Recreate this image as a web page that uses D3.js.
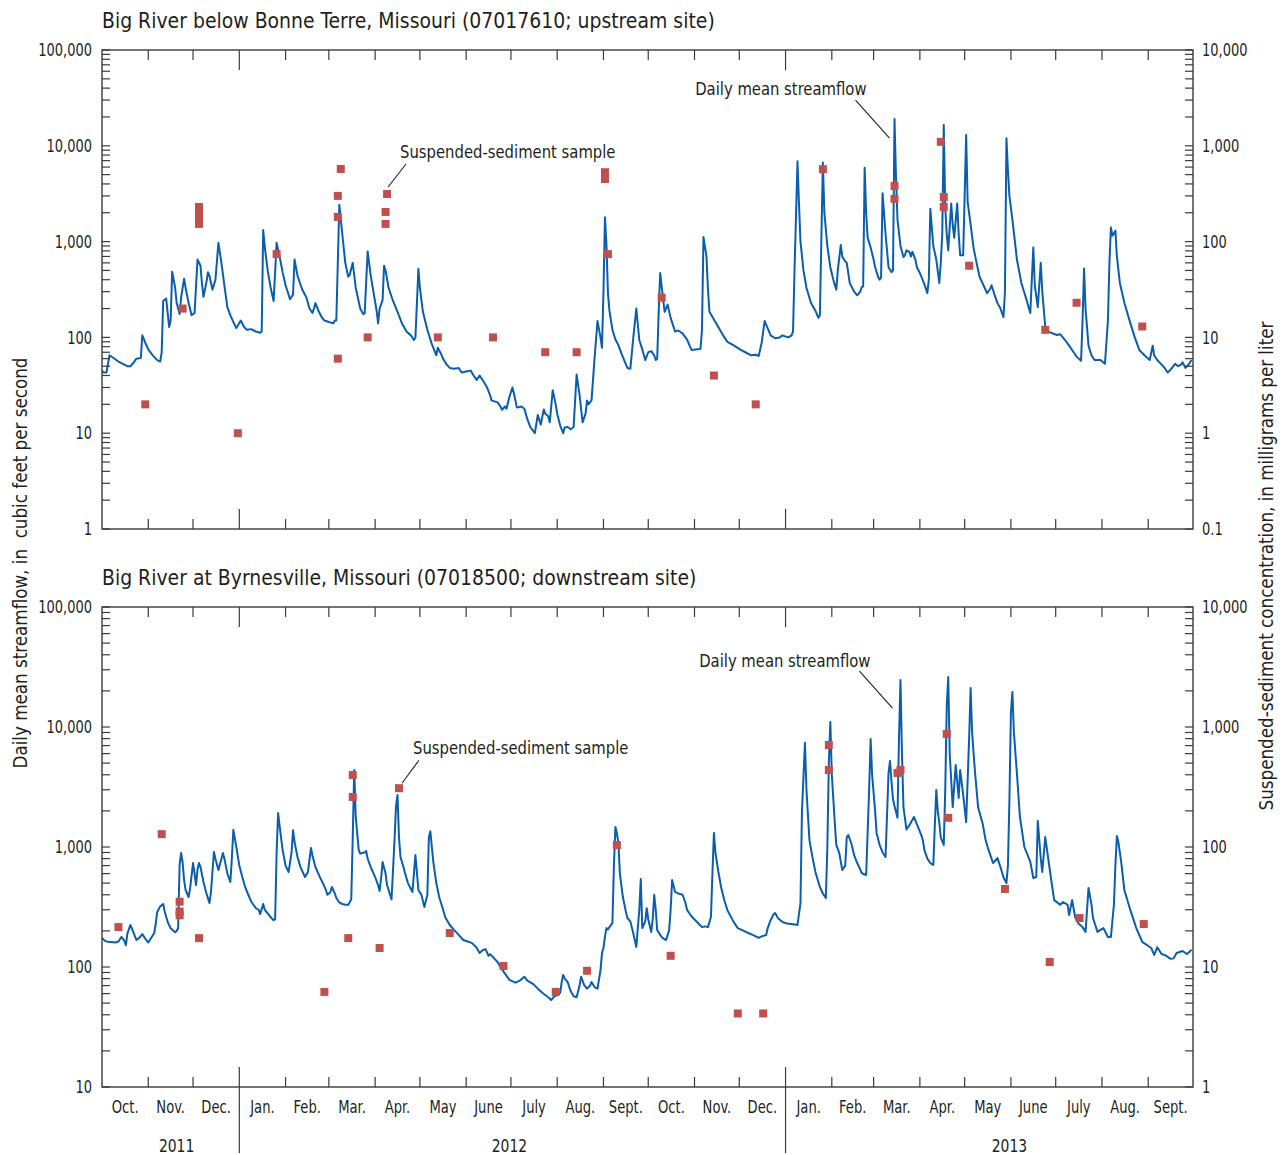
<!DOCTYPE html>
<html>
<head>
<meta charset="utf-8">
<script src="https://cdn.jsdelivr.net/npm/d3@7"></script>
<style>
  html, body { margin: 0; padding: 0; background: #fff; }
  svg { display: block; }
</style>
</head>
<body>
<svg id="chart" width="1284" height="1155"></svg>
<script>
// Water years 2012-2013: day 0 = 1 October 2011.
const startDate = new Date(Date.UTC(2011, 9, 1));
const endDate = new Date(Date.UTC(2013, 9, 1));

// Daily mean streamflow, Big River below Bonne Terre [day, cubic feet per second]
const upstreamFlow = [[0,45],[1,43],[3,43],[5,65],[7,62],[11,56],[15,52],[17,50],[19,50],[21,54],[23,60],[26,61],[27,105],[29,88],[31,75],[34,65],[37,58],[39,56],[40,70],[41,240],[43,255],[44,180],[45,128],[46,150],[47,485],[49,330],[50,230],[52,175],[53,260],[55,410],[56,330],[58,230],[60,170],[62,180],[64,650],[66,560],[67,360],[68,265],[70,380],[71,480],[72,440],[74,315],[76,400],[78,970],[80,600],[82,350],[84,207],[86,170],[88,145],[90,125],[93,150],[95,130],[97,120],[100,122],[103,115],[106,112],[107,115],[108,1320],[109,900],[111,500],[113,330],[115,240],[117,970],[119,700],[121,480],[123,350],[126,250],[128,280],[129,650],[131,440],[134,320],[137,260],[139,200],[141,180],[142,200],[143,228],[145,190],[147,165],[149,150],[152,145],[155,140],[156,150],[157,150],[159,2420],[161,1200],[163,600],[165,430],[166,450],[168,600],[170,330],[173,200],[175,175],[176,178],[178,790],[180,450],[182,290],[184,190],[185,140],[186,200],[188,245],[189,560],[190,500],[192,330],[195,240],[198,185],[201,140],[204,115],[207,105],[209,94],[210,100],[212,520],[213,330],[215,185],[218,120],[221,85],[224,65],[225,78],[227,68],[229,58],[231,52],[233,48],[236,47],[239,48],[241,43],[244,44],[247,45],[249,40],[251,36],[253,40],[256,34],[258,30],[260,25],[261,22],[265,21],[267,19],[268,17.5],[270,19],[271,18],[273,24],[275,30],[276,26],[278,18.5],[281,19],[283,18],[285,14],[287,11.6],[289,10.5],[290,10],[292,15.5],[294,12.3],[296,17.7],[297,16],[299,15],[300,13],[302,28],[304,20],[305,16],[307,12],[309,10],[310,11.5],[312,11.6],[314,11],[316,11.6],[318,41],[320,25],[322,13],[324,16],[325,22],[326,20],[328,22],[330,60],[332,148],[334,100],[335,78],[336,300],[337,1800],[338,920],[339,290],[340,190],[342,120],[344,95],[346,83],[348,68],[352,48],[354,47],[356,100],[358,200],[360,94],[362,75],[364,58],[366,70],[368,72],[370,65],[371,58],[372,60],[373,185],[374,470],[376,250],[377,185],[379,220],[381,160],[384,115],[386,118],[389,110],[392,95],[394,80],[395,74],[399,75],[401,76],[402,120],[403,1120],[405,700],[406,320],[407,185],[411,145],[414,120],[417,100],[419,90],[423,83],[428,74],[431,70],[435,65],[438,66],[440,64],[442,88],[444,148],[446,125],[448,105],[451,98],[454,100],[456,105],[458,102],[460,100],[462,105],[463,115],[464,500],[466,6900],[467,2500],[468,1000],[470,500],[472,330],[475,230],[478,190],[480,160],[481,170],[483,6700],[484,2000],[486,900],[488,540],[490,400],[492,315],[493,500],[495,920],[496,700],[498,620],[499,600],[501,370],[504,300],[506,275],[508,300],[509,335],[510,340],[511,5900],[512,2000],[513,1100],[515,870],[517,650],[518,540],[520,430],[521,400],[522,420],[523,3200],[525,1200],[527,540],[529,480],[530,500],[531,19000],[532,4700],[533,1700],[535,900],[537,690],[538,720],[539,810],[541,780],[542,700],[543,780],[545,650],[546,540],[548,470],[549,430],[551,360],[553,290],[554,400],[555,2200],[557,900],[559,650],[561,370],[562,600],[563,1200],[564,16500],[565,2300],[566,1200],[567,810],[569,2500],[570,1500],[571,1100],[573,2500],[574,1200],[575,720],[577,720],[578,3000],[579,13000],[580,2600],[582,1500],[584,850],[586,600],[588,430],[591,340],[593,290],[595,320],[596,350],[598,280],[600,228],[602,200],[604,163],[605,300],[606,12000],[607,5500],[608,3000],[610,1700],[612,900],[613,650],[615,450],[616,370],[619,260],[622,180],[623,400],[624,870],[625,350],[627,207],[628,350],[629,600],[630,300],[632,130],[634,115],[637,110],[640,106],[642,108],[645,95],[648,82],[651,70],[653,63],[656,57],[657,150],[658,525],[659,200],[661,82],[663,65],[665,58],[669,58],[672,53],[674,150],[675,600],[676,1400],[677,1150],[679,1300],[680,700],[682,370],[685,230],[689,141],[692,100],[695,74],[699,64],[702,58],[704,82],[705,65],[707,58],[710,52],[712,48],[714,43],[716,46],[719,53],[721,50],[723,52],[724,55],[726,48],[728,52],[730,58]];

// Suspended-sediment samples, upstream site [day, milligrams per liter]
const upstreamSamples = [[29,2],[54,20],[65,230],[65,200],[65,175],[65,153],[91,1],[117,74],[158,300],[158,181],[158,6],[160,573],[178,10],[190,204],[190,153],[191,314],[225,10],[262,10],[297,7],[318,7],[337,530],[337,450],[339,74],[375,26],[410,4],[438,2],[483,570],[531,380],[531,279],[562,1100],[564,292],[564,230],[581,56],[632,12],[653,23],[697,13]];

// Daily mean streamflow, Big River at Byrnesville [day, cubic feet per second]
const downstreamFlow = [[0,175],[2,165],[4,162],[9,160],[11,163],[13,178],[15,165],[16,152],[17,190],[19,224],[21,195],[23,168],[25,175],[27,188],[29,172],[31,160],[33,175],[35,192],[36,230],[37,287],[39,320],[41,335],[42,290],[44,237],[46,210],[49,195],[50,200],[51,210],[52,708],[53,890],[54,750],[55,530],[56,440],[58,383],[59,450],[61,735],[62,600],[63,482],[64,650],[65,735],[66,680],[68,511],[70,410],[72,341],[73,420],[75,908],[76,800],[78,643],[80,800],[81,890],[82,800],[84,600],[86,511],[87,800],[88,1390],[90,1000],[92,700],[94,562],[96,460],[98,400],[100,350],[103,310],[105,300],[106,276],[108,335],[109,300],[111,280],[113,260],[115,245],[116,250],[117,900],[118,1920],[119,1500],[121,945],[123,700],[125,617],[127,900],[128,1380],[129,1100],[131,825],[133,680],[136,562],[138,620],[140,980],[141,850],[143,681],[146,560],[148,500],[150,440],[151,400],[153,420],[154,464],[156,410],[157,376],[159,345],[161,335],[163,330],[165,330],[167,365],[168,1200],[169,4380],[170,1800],[172,945],[173,880],[174,890],[176,900],[177,925],[178,800],[180,681],[182,600],[183,562],[185,480],[186,430],[187,550],[188,750],[190,600],[191,482],[193,400],[194,365],[196,1140],[197,2200],[198,2710],[199,1200],[200,825],[202,680],[203,607],[205,500],[208,422],[209,600],[210,857],[212,438],[214,400],[216,316],[218,400],[219,1200],[220,1350],[221,1000],[222,750],[224,500],[226,380],[228,316],[230,260],[233,224],[236,203],[239,185],[242,168],[245,163],[248,158],[251,145],[253,131],[255,138],[257,141],[259,124],[260,128],[262,121],[265,110],[267,100],[270,88],[273,78],[277,74],[280,77],[283,83],[285,77],[289,72],[292,66],[295,61],[299,56],[301,53],[303,57],[305,58],[307,61],[308,75],[309,86],[310,80],[312,75],[314,63],[316,57],[318,56],[320,70],[321,83],[323,71],[325,66],[327,70],[328,75],[330,68],[332,66],[334,94],[335,130],[336,144],[337,180],[338,211],[339,205],[340,215],[342,233],[343,700],[344,1470],[345,1300],[346,1080],[347,600],[349,383],[351,290],[352,256],[354,240],[356,190],[358,147],[360,300],[361,541],[362,211],[364,240],[365,309],[366,250],[368,196],[369,250],[370,400],[371,300],[372,203],[375,178],[377,170],[378,168],[380,203],[381,300],[382,531],[384,422],[386,410],[389,400],[391,340],[392,299],[394,275],[396,256],[399,235],[402,215],[404,218],[406,215],[408,261],[409,600],[410,1310],[411,900],[413,619],[415,450],[417,360],[419,299],[423,240],[426,211],[430,200],[433,192],[436,185],[440,175],[442,180],[445,185],[446,210],[448,246],[450,275],[451,282],[453,255],[456,237],[459,230],[462,228],[466,224],[468,341],[469,2000],[471,7400],[472,3000],[474,1140],[476,825],[478,620],[481,464],[483,410],[485,376],[486,1000],[487,5000],[488,11000],[489,4000],[491,1580],[492,1040],[494,890],[496,643],[498,700],[499,1210],[500,1260],[502,1080],[504,850],[506,735],[508,650],[509,607],[511,590],[512,584],[514,3000],[515,7940],[516,4000],[518,2000],[519,1310],[521,1040],[523,900],[525,825],[527,4140],[528,5210],[529,3500],[530,2500],[531,2200],[533,1750],[534,8000],[535,24600],[536,6000],[537,2150],[539,1400],[541,1520],[544,1780],[547,1440],[549,1250],[550,1140],[551,945],[553,800],[555,735],[557,708],[558,1500],[559,2990],[560,2000],[561,1600],[562,1200],[564,1040],[565,3000],[566,15000],[567,26100],[568,6000],[570,2150],[572,4820],[574,2560],[575,4380],[577,2730],[579,1610],[581,8000],[582,21100],[583,9000],[584,6000],[585,4140],[587,2150],[590,1580],[592,1150],[594,945],[597,735],[600,808],[602,680],[604,560],[606,500],[607,700],[608,2500],[609,13100],[610,19600],[611,9000],[613,4140],[615,1800],[618,1000],[622,750],[624,552],[626,562],[627,1650],[629,800],[630,619],[632,1210],[634,800],[636,531],[638,361],[642,330],[644,348],[647,330],[648,271],[650,361],[652,261],[654,233],[657,215],[659,196],[661,455],[663,330],[664,256],[667,196],[671,211],[674,178],[676,178],[678,330],[679,700],[680,1236],[681,1100],[683,735],[685,438],[689,299],[693,211],[697,162],[703,144],[705,126],[707,146],[710,128],[712,126],[716,117],[718,118],[720,131],[724,136],[727,128],[730,139]];

// Suspended-sediment samples, downstream site [day, milligrams per liter]
const downstreamSamples = [[11,21.5],[40,128],[52,35],[52,29],[52,27],[65,17.4],[149,6.2],[165,17.4],[168,398],[168,261],[186,14.4],[199,309],[233,19.2],[269,10.2],[304,6.2],[325,9.3],[345,104],[381,12.4],[426,4.1],[443,4.1],[487,708],[487,438],[533,414],[535,438],[566,875],[567,175],[605,44.7],[635,11],[655,25.6],[698,22.8]];

// Axis tick labels
const monthLabels = ["Jan.", "Feb.", "Mar.", "Apr.", "May", "June", "July", "Aug.", "Sept.", "Oct.", "Nov.", "Dec."];
const yearLabels = [["2011", "2011-11-20"], ["2012", "2012-06-30"], ["2013", "2013-05-31"]];
const upstreamFlowTicks = ["1", "10", "100", "1,000", "10,000", "100,000"];
const upstreamConcTicks = ["0.1", "1", "10", "100", "1,000", "10,000"];
const downstreamFlowTicks = ["10", "100", "1,000", "10,000", "100,000"];
const downstreamConcTicks = ["1", "10", "100", "1,000", "10,000"];

const FONT = '"DejaVu Sans Condensed", "DejaVu Sans", sans-serif';
const INK = "#231f20";
const AXIS = "#3a3a3a";
const LINE = "#0a5eab";
const SAMPLE = "#c0504d";

const svg = d3.select("#chart");
svg.append("rect").attr("width", 1284).attr("height", 1155).attr("fill", "#fff");

// Text in a narrowed face: horizontal compression keeps the condensed look.
function label(parent, opt) {
  const t = parent.append("text")
    .attr("transform", `translate(${opt.x},${opt.y})` + (opt.rotate ? ` rotate(${opt.rotate})` : "") + ` scale(${opt.sx || 1},1)`)
    .attr("text-anchor", opt.anchor || "start")
    .attr("font-family", FONT)
    .attr("font-size", opt.size)
    .attr("fill", INK)
    .style("white-space", "pre")
    .text(opt.text);
  if (opt.middle) t.attr("dy", "0.36em");
  return t;
}

const left = 102, right = 1193;
const x = d3.scaleUtc().domain([startDate, endDate]).range([left, right]);
const dayDate = d => d3.utcDay.offset(startDate, d);

const panels = [
  {
    title: "Big River below Bonne Terre, Missouri (07017610; upstream site)",
    top: 50, bottom: 529,
    flowDomain: [1, 1e5], concDomain: [0.1, 1e4],
    flow: upstreamFlow, samples: upstreamSamples,
    flowTicks: upstreamFlowTicks, concTicks: upstreamConcTicks,
    sampleNote: { day: 191, conc: 314, leader: [[1, -7], [19, -30]], text: [13, -42] },
    flowNote: { day: 531, flow: 19000, leader: [[-5, 19], [-39, -19]], text: [-28, -31] },
    monthLabels: false
  },
  {
    title: "Big River at Byrnesville, Missouri (07018500; downstream site)",
    top: 607, bottom: 1087,
    flowDomain: [10, 1e5], concDomain: [1, 1e4],
    flow: downstreamFlow, samples: downstreamSamples,
    flowTicks: downstreamFlowTicks, concTicks: downstreamConcTicks,
    sampleNote: { day: 199, conc: 309, leader: [[3, -5], [20, -28]], text: [14, -41] },
    flowNote: { day: 535, flow: 24600, leader: [[-8, 28], [-41, -9]], text: [-30, -20] },
    monthLabels: true
  }
];

const monthStarts = d3.utcMonth.range(startDate, endDate).slice(1);
const isYearStart = d => d.getUTCMonth() === 0;

panels.forEach((p, i) => {
  const g = svg.append("g");
  const yFlow = d3.scaleLog().domain(p.flowDomain).range([p.bottom, p.top]);
  const yConc = d3.scaleLog().domain(p.concDomain).range([p.bottom, p.top]);

  label(g, { x: left, y: p.top - 22, text: p.title, size: 22, sx: 0.953 });

  const clipId = "clip" + i;
  g.append("clipPath").attr("id", clipId)
    .append("rect").attr("x", left).attr("y", p.top)
    .attr("width", right - left).attr("height", p.bottom - p.top);

  // streamflow hydrograph
  const line = d3.line()
    .x(d => x(dayDate(d[0])))
    .y(d => yFlow(d[1]));
  g.append("path")
    .datum(p.flow)
    .attr("clip-path", `url(#${clipId})`)
    .attr("d", line)
    .attr("fill", "none")
    .attr("stroke", LINE)
    .attr("stroke-width", 2)
    .attr("stroke-linejoin", "round");

  // sediment samples
  g.selectAll("rect.sample")
    .data(p.samples)
    .join("rect")
    .attr("class", "sample")
    .attr("x", d => x(dayDate(d[0])) - 4)
    .attr("y", d => yConc(d[1]) - 4)
    .attr("width", 8).attr("height", 8)
    .attr("fill", SAMPLE);

  // frame
  g.append("rect")
    .attr("x", left).attr("y", p.top)
    .attr("width", right - left).attr("height", p.bottom - p.top)
    .attr("fill", "none").attr("stroke", AXIS).attr("stroke-width", 1.4);

  // logarithmic ticks on both sides, pointing inward
  const [fLo, fHi] = p.flowDomain;
  const minor = [];
  for (let dec = fLo; dec < fHi; dec *= 10) {
    for (let m = 1; m <= 9; m++) minor.push(dec * m);
  }
  minor.push(fHi);
  const tickG = g.append("g").attr("stroke", AXIS).attr("stroke-width", 1.2);
  minor.forEach(v => {
    const yy = yFlow(v);
    tickG.append("line").attr("x1", left).attr("x2", left + 8).attr("y1", yy).attr("y2", yy);
    tickG.append("line").attr("x1", right - 8).attr("x2", right).attr("y1", yy).attr("y2", yy);
  });

  p.flowTicks.forEach((t, k) => {
    label(g, { x: left - 10, y: yFlow(fLo * Math.pow(10, k)), text: t, size: 17, sx: 0.85, anchor: "end", middle: true });
  });
  p.concTicks.forEach((t, k) => {
    label(g, { x: right + 9, y: yConc(p.concDomain[0] * Math.pow(10, k)), text: t, size: 17, sx: 0.85, anchor: "start", middle: true });
  });

  // month ticks along top and bottom edges; year boundaries are longer
  monthStarts.forEach(m => {
    const xx = x(m);
    const len = isYearStart(m) ? 20 : 10;
    tickG.append("line").attr("x1", xx).attr("x2", xx).attr("y1", p.top).attr("y2", p.top + len);
    tickG.append("line").attr("x1", xx).attr("x2", xx).attr("y1", p.bottom).attr("y2", p.bottom - len);
    if (p.monthLabels && isYearStart(m)) {
      tickG.append("line").attr("x1", xx).attr("x2", xx).attr("y1", p.bottom).attr("y2", p.bottom + 66);
    }
  });

  if (p.monthLabels) {
    const bounds = d3.utcMonth.range(startDate, d3.utcDay.offset(endDate, 1));
    for (let k = 0; k < bounds.length - 1; k++) {
      const mid = new Date((+bounds[k] + +bounds[k + 1]) / 2);
      label(g, { x: x(mid), y: p.bottom + 26, text: monthLabels[bounds[k].getUTCMonth()], size: 17, sx: 0.86, anchor: "middle" });
    }
    yearLabels.forEach(d => {
      label(g, { x: x(new Date(d[1] + "T00:00:00Z")), y: p.bottom + 65, text: d[0], size: 18, sx: 0.86, anchor: "middle" });
    });
  }

  // callouts
  const note = (ax, ay, n, text, anchor) => {
    g.append("line")
      .attr("x1", ax + n.leader[0][0]).attr("y1", ay + n.leader[0][1])
      .attr("x2", ax + n.leader[1][0]).attr("y2", ay + n.leader[1][1])
      .attr("stroke", INK).attr("stroke-width", 1.1);
    label(g, { x: ax + n.text[0], y: ay + n.text[1], text, size: 18, sx: 0.915, anchor, middle: true });
  };
  note(x(dayDate(p.sampleNote.day)), yConc(p.sampleNote.conc), p.sampleNote, "Suspended-sediment sample", "start");
  note(x(dayDate(p.flowNote.day)), yFlow(p.flowNote.flow), p.flowNote, "Daily mean streamflow", "end");
});

// axis titles
label(svg, { x: 27, y: 563, rotate: -90, text: "Daily mean streamflow, in  cubic feet per second", size: 19, sx: 0.98, anchor: "middle" });
label(svg, { x: 1273, y: 566, rotate: -90, text: "Suspended-sediment concentration, in milligrams per liter", size: 19, sx: 0.98, anchor: "middle" });
</script>
</body>
</html>
